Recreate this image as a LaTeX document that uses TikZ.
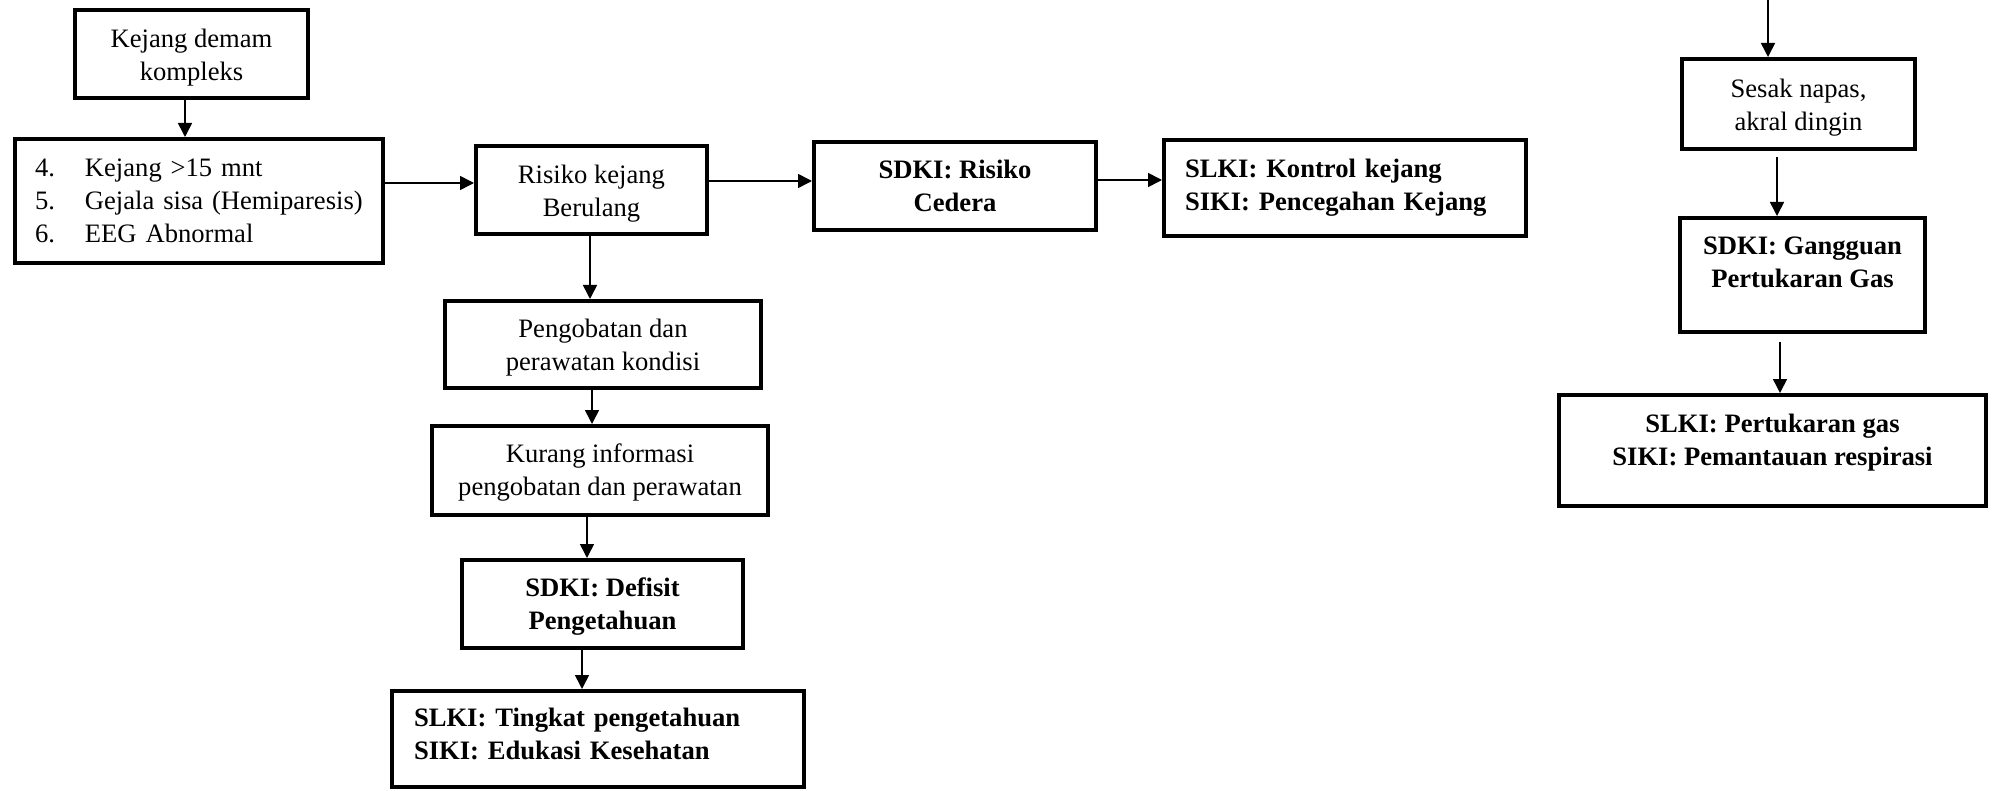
\documentclass[tikz,border=0pt]{standalone}
\usepackage{fontspec}
\setmainfont{Liberation Serif}
\usetikzlibrary{arrows.meta}
\newcommand\hstrut[1]{\rule{0pt}{#1}}
\tikzset{
  box/.style={draw, line width=2pt, rectangle, inner sep=0pt,
    font=\fontsize{13.3}{16.5}\selectfont, align=center},
  boldbox/.style={box, font=\fontsize{13.3}{16.5}\selectfont\bfseries},
  sz/.style 2 args={minimum width=#1*0.5pt, minimum height=#2*0.5pt},
  lefttext/.style={text width=#1*0.5pt, align=left},
  arr/.style={line width=0.8pt, -{Triangle[length=7pt,width=7pt]}}
}
\begin{document}
\begin{tikzpicture}[x=0.5pt,y=-0.5pt]
\useasboundingbox (0,0) rectangle (1997,791);
\fill[white] (0,0) rectangle (1997,791);

% left part
\node[box, sz={233}{88}] (A) at (191.5,54) {\hstrut{13pt}Kejang demam\\kompleks};
\node[box, sz={368}{124}, lefttext=328] (B) at (199,201)
  {\makebox[25pt][l]{4.}Kejang >15 mnt\\
   \makebox[25pt][l]{5.}Gejala sisa (Hemiparesis)\\
   \makebox[25pt][l]{6.}EEG Abnormal};
\node[box, sz={231}{88}] (C) at (591.5,190) {\hstrut{13pt}Risiko kejang\\Berulang};
\node[boldbox, sz={282}{88}] (D) at (955,186) {SDKI: Risiko\\Cedera};
\node[boldbox, sz={362}{96}, lefttext=320] (E) at (1345,188)
  {SLKI: Kontrol kejang\\SIKI: Pencegahan Kejang};
\node[box, sz={316}{87}] (F) at (603,344.5) {\hstrut{12pt}Pengobatan dan\\perawatan kondisi};
\node[box, sz={336}{89}] (G) at (600,470.5) {\hstrut{11pt}Kurang informasi\\pengobatan dan perawatan};
\node[boldbox, sz={281}{88}] (H) at (602.5,604) {\hstrut{12pt}SDKI: Defisit\\Pengetahuan};
\node[boldbox, sz={412}{96}, lefttext=368] (I) at (598,739)
  {SLKI: Tingkat pengetahuan\\SIKI: Edukasi Kesehatan\rule[-5.5pt]{0pt}{5.5pt}};

% right part
\coordinate (jtop) at (1768,0);
\node[box, sz={233}{90}] (J) at (1798.5,104) {\hstrut{13pt}Sesak napas,\\akral dingin};
\node[boldbox, sz={245}{114}] (K) at (1802.5,275)
  {SDKI: Gangguan\\Pertukaran Gas\rule[-13pt]{0pt}{13pt}};
\node[boldbox, sz={427}{111}] (L) at (1772.5,450.5)
  {SLKI: Pertukaran gas\\SIKI: Pemantauan respirasi\rule[-11pt]{0pt}{11pt}};

% connectors
\draw[arr] ([xshift=-3.25pt]A.south) -- ([xshift=-3.25pt]A.south |- B.north);
\draw[arr] ([yshift=9pt]B.east) -- ([yshift=9pt]B.east -| C.west);
\draw[arr] ([yshift=4.5pt]C.east) -- ([yshift=4.5pt]C.east -| D.west);
\draw[arr] ([yshift=3pt]D.east) -- ([yshift=3pt]D.east -| E.west);
\draw[arr] ([xshift=-0.75pt]C.south) -- ([xshift=-0.75pt]C.south |- F.north);
\draw[arr] ([xshift=-5.5pt]F.south) -- ([xshift=-5.5pt]F.south |- G.north);
\draw[arr] ([xshift=-6.5pt]G.south) -- ([xshift=-6.5pt]G.south |- H.north);
\draw[arr] ([xshift=-10.25pt,yshift=2pt]H.south) -- ([xshift=-10.25pt]H.south |- I.north);
\draw[arr] (jtop) -- (jtop |- J.north);
\draw[arr] ([xshift=-10.75pt,yshift=-3pt]J.south) -- ([xshift=-10.75pt]J.south |- K.north);
\draw[arr] ([xshift=-11.25pt,yshift=-4pt]K.south) -- ([xshift=-11.25pt]K.south |- L.north);
\end{tikzpicture}
\end{document}
